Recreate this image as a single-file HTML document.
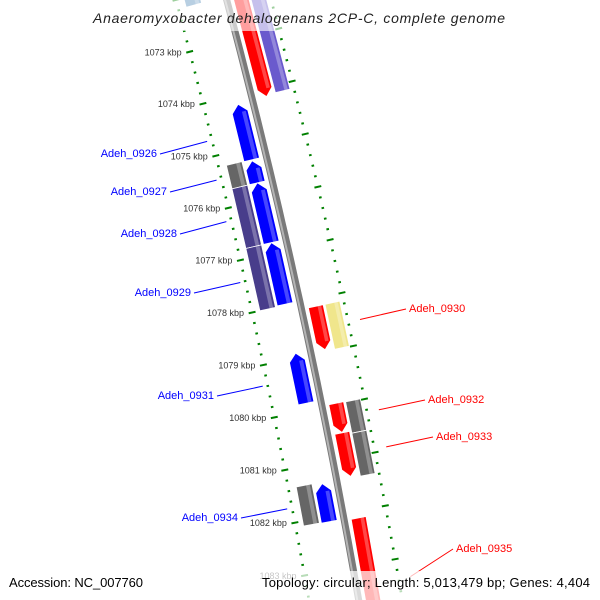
<!DOCTYPE html>
<html><head><meta charset="utf-8"><style>
html,body{margin:0;padding:0;background:#fff;width:600px;height:600px;overflow:hidden}
svg{display:block}
text{font-family:"Liberation Sans",sans-serif}
</style></head><body>
<svg id="map" width="600" height="600" viewBox="0 0 600 600" xmlns="http://www.w3.org/2000/svg" style="overflow:hidden">
<g id="ticks"></g>
<g id="backbone"></g>
<g id="genes"></g>
<g id="labels"></g>
<rect x="88" y="0" width="424" height="31" fill="#fff" opacity="0.62"/>
<text x="93" y="23" font-size="14" font-style="italic" fill="#222" textLength="412" lengthAdjust="spacing">Anaeromyxobacter dehalogenans 2CP-C, complete genome</text>
<rect x="0" y="571" width="600" height="29" fill="#fff" opacity="0.72"/>
<text x="9" y="587" font-size="13" fill="#000" textLength="134" lengthAdjust="spacing">Accession: NC_007760</text>
<text x="262" y="587" font-size="13" fill="#000" textLength="328" lengthAdjust="spacing">Topology: circular; Length: 5,013,479 bp; Genes: 4,404</text>
</svg>
<script>
// ---- data ----
const geneNames = ['gene-top-teal','gene-top-red','gene-top-purple','Adeh_0926','Adeh_0927','gene-blue-b','Adeh_0928','Adeh_0929','gene-blue-c','gene-blue-d','Adeh_0930','gene-yellow','Adeh_0931','Adeh_0932','gene-gray-a','Adeh_0933','gene-gray-b','Adeh_0934','gene-blue-e','Adeh_0935'];
const geneStarts = [1071.5,1071.5,1071.5,1074.17,1075.22,1075.25,1075.67,1076.81,1075.67,1076.81,1078.14,1078.14,1078.91,1079.97,1079.98,1080.53,1080.57,1081.35,1081.38,1082.13];
const geneEnds   = [1072.18,1074.16,1074.13,1075.23,1075.67,1075.67,1076.81,1078.0,1076.81,1077.98,1078.96,1078.99,1079.86,1080.52,1080.57,1081.35,1081.38,1082.09,1082.1,1084.6];
const geneStrands = [0,1,0,-1,0,-1,0,0,-1,-1,1,0,-1,1,0,1,0,0,-1,1];
const geneTracks = ['L2','R1','R2','L1','L2','L1','L2','L2','L1','L1','R1','R2','L1','R1','R2','R1','R2','L2','L1','R1'];
const geneColors = ['#4682b4','#ff0000','#6a5acd','#0000ff','#666666','#0000ff','#483d8b','#483d8b','#0000ff','#0000ff','#ff0000','#f0e68c','#0000ff','#ff0000','#666666','#ff0000','#666666','#666666','#0000ff','#ff0000'];
const tickKbp = [1071,1072,1073,1074,1075,1076,1077,1078,1079,1080,1081,1082,1083,1084,1085];
const tickLabels = ['1071 kbp','1072 kbp','1073 kbp','1074 kbp','1075 kbp','1076 kbp','1077 kbp','1078 kbp','1079 kbp','1080 kbp','1081 kbp','1082 kbp','1083 kbp','1084 kbp','1085 kbp'];
const labelNames = ['Adeh_0926','Adeh_0927','Adeh_0928','Adeh_0929','Adeh_0931','Adeh_0934','Adeh_0930','Adeh_0932','Adeh_0933','Adeh_0935'];

// ---- layout ----
const labelPos = {Adeh_0926:[157,157],Adeh_0927:[167,195],Adeh_0928:[177,237],Adeh_0929:[191,296],Adeh_0931:[214,399],Adeh_0934:[238,521],
  Adeh_0930:[409,312],Adeh_0932:[428,403],Adeh_0933:[436,440],Adeh_0935:[456,552]};
const trackR = {L1:[-23,-7],L2:[-41,-25],R1:[7,22],R2:[24,39]};
const CX=-6635, CY=1824, R0=7100, K0=1077.95, A0=-12.4, DA=0.4358;
const NS='http://www.w3.org/2000/svg';
function pt(k,r){const a=(A0+(k-K0)*DA)*Math.PI/180;return [CX+(R0+r)*Math.cos(a),CY+(R0+r)*Math.sin(a)];}
function mk(tag,parent){const e=document.createElementNS(NS,tag);parent.appendChild(e);return e;}
function poly(list){return list.map(p=>{const q=pt(p[0],p[1]);return q[0].toFixed(1)+','+q[1].toFixed(1);}).join(' ');}

// ticks
const tg=document.getElementById('ticks');
function tickLine(k,r1,r2,w){const a=pt(k,r1),b=pt(k,r2);const l=mk('line',tg);
  
  
  l.setAttribute('x1',a[0]);l.setAttribute('y1',a[1]);l.setAttribute('x2',b[0]);l.setAttribute('y2',b[1]);
  l.setAttribute('stroke','#008000');l.setAttribute('stroke-width',w);}
for(let i=0;i<tickKbp.length-1;i++){
  for(let j=0;j<5;j++){const k=tickKbp[i]+j*0.2;
    if(j===0){tickLine(k,-52.5,-45.5,2);tickLine(k,39.5,46.5,2);}
    else{tickLine(k,-50.3,-47.7,2);tickLine(k,41.7,44.3,2);}
  }
}
tickKbp.forEach((k,i)=>{const p=pt(k,-49);
  if(p[1]<10||p[1]>600)return;
  const t=mk('text',tg);
  
  
  t.setAttribute('x',p[0]-8);t.setAttribute('y',p[1]+3.5);t.setAttribute('text-anchor','end');
  t.setAttribute('font-size','9');t.setAttribute('fill','#333');t.textContent=tickLabels[i];});

// backbone
const bg=document.getElementById('backbone');
function bbLine(r,color,w){const pts=[];for(let k=1070;k<=1086;k+=0.25)pts.push([k,r]);
  const l=mk('polyline',bg);
  
  
  l.setAttribute('points',poly(pts));l.setAttribute('fill','none');l.setAttribute('stroke',color);l.setAttribute('stroke-width',w);}
bbLine(0,'#7a7a7a',7);bbLine(-1.5,'#b4b4b4',2);

// genes
const gg=document.getElementById('genes');
const H=0.15;
geneNames.forEach((n,i)=>{
  const k1=geneStarts[i],k2=geneEnds[i],s=geneStrands[i],tr=trackR[geneTracks[i]];
  const ra=tr[0],rb=tr[1],rm=(ra+rb)/2;
  let shape;
  if(s===1) shape=[[k1,ra],[k2-H,ra],[k2,rm],[k2-H,rb],[k1,rb]];
  else if(s===-1) shape=[[k1,rm],[k1+H,ra],[k2,ra],[k2,rb],[k1+H,rb]];
  else shape=[[k1,ra],[k2,ra],[k2,rb],[k1,rb]];
  const g=mk('g',gg);
  
  
  const p=mk('polygon',g);
  
  
  p.setAttribute('points',poly(shape));p.setAttribute('fill',geneColors[i]);p.setAttribute('stroke','#fff');p.setAttribute('stroke-width','0.8');
  const w=rb-ra, b1=s===-1?k1+H:k1, b2=s===1?k2-H:k2;
  const h=mk('polygon',g);
  
  
  h.setAttribute('points',poly([[b1,ra+0.62*w],[b2,ra+0.62*w],[b2,ra+0.86*w],[b1,ra+0.86*w]]));
  h.setAttribute('fill','#fff');h.setAttribute('opacity','0.28');
});

// labels
const lg=document.getElementById('labels');
labelNames.forEach(n=>{
  const i=geneNames.indexOf(n);const left=geneTracks[i][0]==='L';
  const km=(geneStarts[i]+geneEnds[i])/2;const e=pt(km,left?-54:55);
  const lp=labelPos[n];const col=left?'#0000ff':'#ff0000';
  const l=mk('line',lg);
  
  
  l.setAttribute('x1',left?lp[0]+3:lp[0]-3);l.setAttribute('y1',lp[1]-3);l.setAttribute('x2',e[0]);l.setAttribute('y2',e[1]);
  l.setAttribute('stroke',col);l.setAttribute('stroke-width','1');
  const t=mk('text',lg);
  
  
  t.setAttribute('x',lp[0]);t.setAttribute('y',lp[1]);t.setAttribute('text-anchor',left?'end':'start');
  t.setAttribute('font-size','11');t.setAttribute('fill',col);t.textContent=n;
});
</script>
</body></html>
